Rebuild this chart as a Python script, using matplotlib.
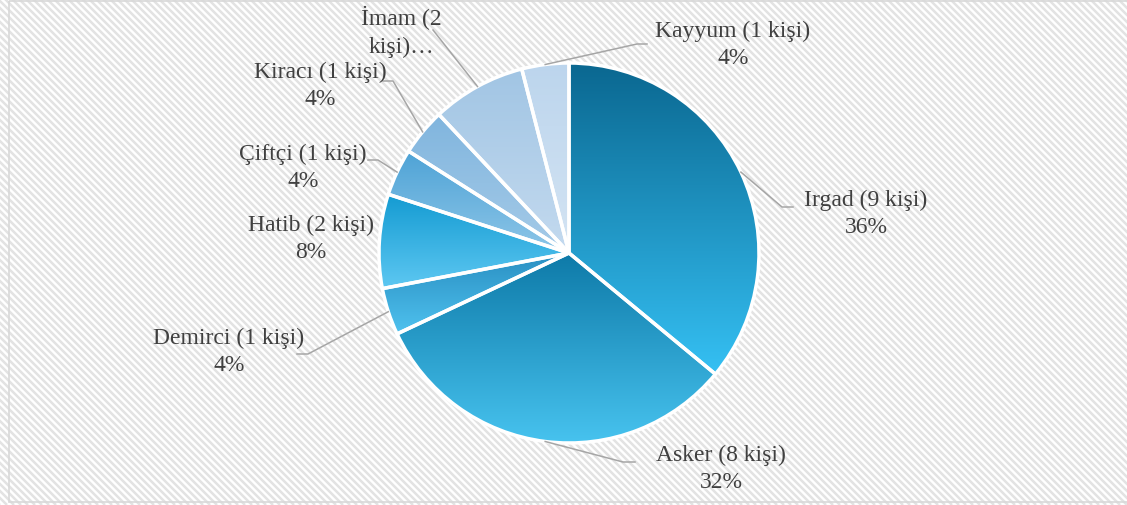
import numpy as np
import matplotlib.pyplot as plt
from matplotlib.patches import Wedge, Rectangle
from matplotlib.collections import LineCollection
from matplotlib.colors import LinearSegmentedColormap

# data, clockwise from the top
jobs = ["Irgad", "Asker", "Demirci", "Hatib", "Çiftçi", "Kiracı", "İmam", "Kayyum"]
people = [9, 8, 1, 2, 1, 1, 2, 1]

# gradient colours (top, bottom) for each slice
grad = [("#0a6790", "#35c0f3"), ("#0e7aa8", "#48c4f0"), ("#2a8fc2", "#4fc2ef"),
        ("#149bd2", "#5ec8f2"), ("#4ea3d6", "#8ec6e8"), ("#80b5de", "#a6cbe8"),
        ("#a1c5e4", "#c4daef"), ("#bcd5ed", "#d4e4f3")]

# label centres and leader elbow / end points (pixels, y down)
label_xy = [(866, 214), (721, 469), (229, 352), (311, 239),
            (303, 168), (320, 86), (401, 32), (733, 45)]
leaders = [[(782, 208), (793, 208)], [(623, 463), (635, 463)],
           [(308, 355), (297, 355)], None,
           [(378, 161), (368, 161)], [(393, 82), (383, 82)],
           [(433, 31)], [(637, 45), (647, 45)]]

W, H = 1127, 506
cx, cy, R = 569, 254, 190

fig = plt.figure(figsize=(W / 100, H / 100), dpi=100)
ax = fig.add_axes([0, 0, 1, 1])

# hatched background with grey frame
frame = Rectangle((8.5, 1.5), W + 10, 501.5, facecolor="white", edgecolor="none", zorder=0)
ax.add_patch(frame)
segs = [[(x0, 0), (x0 + H, H)] for x0 in np.arange(-H, W + 10, 7)]
lc = LineCollection(segs, colors="#e3e3e3", linewidths=1.8, zorder=0.5)
lc.set_clip_path(frame)
ax.add_collection(lc)
ax.add_patch(Rectangle((8.5, 1.5), W + 10, 501.5, fill=False, edgecolor="#d9d9d9", lw=1.2, zorder=0.6))

wedges, _ = ax.pie(people, startangle=-90, counterclock=True, center=(cx, cy), radius=R,
                   wedgeprops=dict(facecolor="white", edgecolor="none"), frame=True)

total = sum(people)
for i, w in enumerate(wedges):
    v = w.get_path().vertices
    x0, x1 = v[:, 0].min(), v[:, 0].max()
    y0, y1 = v[:, 1].min(), v[:, 1].max()
    cmap = LinearSegmentedColormap.from_list("g%d" % i, grad[i])
    img = ax.imshow(np.linspace(0, 1, 256).reshape(-1, 1), cmap=cmap, aspect="auto",
                    extent=(x0, x1, y1, y0), origin="upper", zorder=2, interpolation="bilinear")
    img.set_clip_path(w)
    ax.add_patch(Wedge((cx, cy), R, w.theta1, w.theta2, fill=False, edgecolor="white", lw=2.5, zorder=3))

    # labels
    pct = round(100 * people[i] / total)
    if jobs[i] == "İmam":
        txt = "İmam (2\nkişi)…"
    else:
        txt = "%s (%d kişi)\n%d%%" % (jobs[i], people[i], pct)
    ax.text(label_xy[i][0], label_xy[i][1], txt, ha="center", va="center", fontsize=17,
            family="Liberation Serif", color="#404040", linespacing=1.4, zorder=5)

    if leaders[i] is not None:
        mid = np.radians((w.theta1 + w.theta2) / 2)
        pts = [(cx + R * np.cos(mid), cy + R * np.sin(mid))] + leaders[i]
        ax.plot([p[0] for p in pts], [p[1] for p in pts], color="#a6a6a6", lw=1.1, zorder=4)

ax.set_xlim(0, W)
ax.set_ylim(H, 0)
ax.set_aspect("auto")
ax.axis("off")
fig.savefig("out.png", dpi=100, facecolor="white")
